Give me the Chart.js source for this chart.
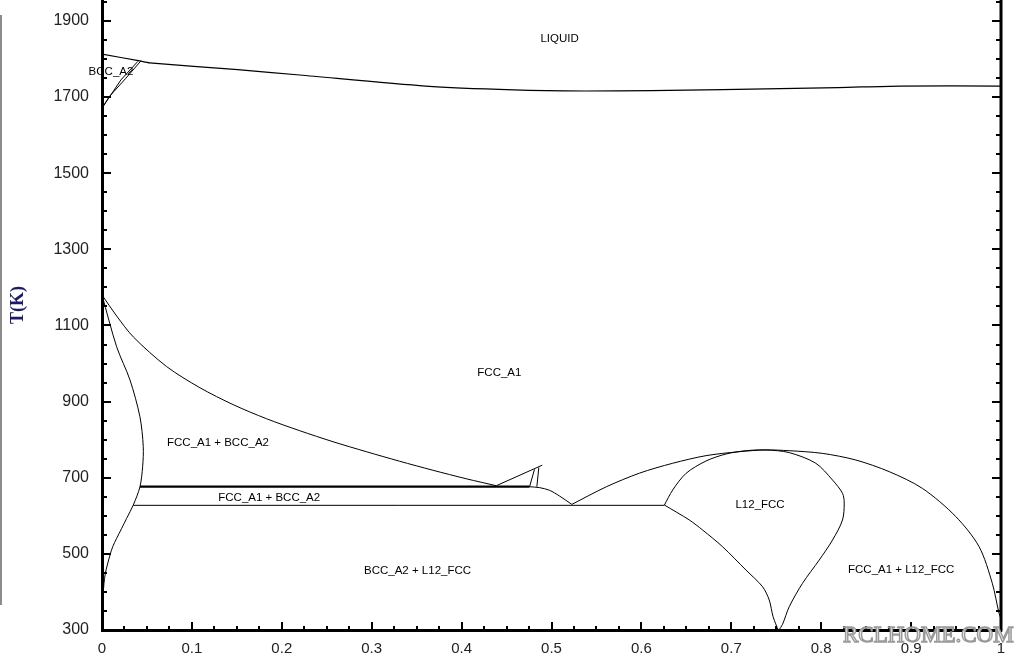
<!DOCTYPE html>
<html>
<head>
<meta charset="utf-8">
<title>Phase diagram</title>
<script src="https://cdn.jsdelivr.net/npm/chart.js@4.4.1/dist/chart.umd.min.js"></script>
<style>
  html, body { margin: 0; padding: 0; background: #fff; }
  #wrap { position: relative; width: 1024px; height: 664px; overflow: hidden; }
  #edge { position: absolute; left: 0; top: 15px; width: 2px; height: 590px; background: #8c8c8c; }
</style>
</head>
<body>
<div id="wrap">
  <canvas id="phaseChart" width="1024" height="664"></canvas>
  <div id="edge"></div>
</div>
<script>
/* phase boundaries, points are [mole fraction, T(K)] */
const xTickValues = [0, 0.1, 0.2, 0.3, 0.4, 0.5, 0.6, 0.7, 0.8, 0.9, 1];
const xTickLabels = ['0', '0.1', '0.2', '0.3', '0.4', '0.5', '0.6', '0.7', '0.8', '0.9', '1'];
const yTickValues = [300, 500, 700, 900, 1100, 1300, 1500, 1700, 1900];
const yTickLabels = ['300', '500', '700', '900', '1100', '1300', '1500', '1700', '1900'];

const liquidus = [[0, 1813], [0.042, 1795], [0.053, 1790], [0.151, 1772], [0.22, 1758], [0.36, 1729],
  [0.458, 1719], [0.537, 1716], [0.611, 1717], [0.69, 1719.5], [0.819, 1725], [0.887, 1729], [1.0, 1729]];
const bccEdgeA = [[0, 1671], [0.021, 1745], [0.04, 1794]];
const bccEdgeB = [[0, 1671], [0.008, 1701], [0.026, 1748], [0.0433, 1795]];

const fccSolvus = [[0, 1180], [0.0163, 1125], [0.0348, 1070], [0.0719, 992], [0.1089, 936.5], [0.1459, 892],
  [0.183, 855], [0.22, 823.5], [0.257, 794.6], [0.294, 768.4], [0.331, 743.4], [0.368, 719.7], [0.405, 697.4],
  [0.4386, 679]];
const bccSolvus = [[0, 1180], [0.0163, 1044], [0.0311, 957], [0.0422, 860], [0.0459, 782], [0.0452, 729],
  [0.0422, 676], [0.0348, 628.3], [0.0274, 593.3], [0.0219, 567], [0.0163, 540.8], [0.0119, 518.7],
  [0.0089, 497], [0.0059, 470.6], [0.0037, 448.8], [0.0022, 422.6], [0.0014, 396.3], [0.0008, 361], [0, 340]];

const upperTie = [[0.0422, 676.4], [0.4756, 676.4]];
const lowerTie = [[0.0348, 627.5], [0.6256, 627.5]];
const smallTie = [[0.4386, 679], [0.4897, 733]];
const sliverA = [[0.4756, 676.4], [0.4811, 722]];
const sliverB = [[0.4837, 676.4], [0.4859, 727]];
const vLeft = [[0.4756, 676.4], [0.4867, 674], [0.4978, 667], [0.5089, 652], [0.5226, 630]];

const outerDome = [[0.5226, 630], [0.5608, 676], [0.5978, 712], [0.6348, 738], [0.6719, 758], [0.7089, 768.4],
  [0.7386, 773], [0.7644, 771], [0.8014, 764], [0.8386, 746.5], [0.8756, 716], [0.9126, 672], [0.9497, 598],
  [0.9756, 519], [0.9903, 423], [0.9978, 344], [1.0, 330]];
const l12Right = [[0.6256, 628.3], [0.6348, 667.7], [0.6497, 711.6], [0.6719, 744], [0.6941, 762.3], [0.7163, 771],
  [0.7386, 773], [0.7644, 766], [0.794, 738], [0.8126, 694], [0.8237, 659], [0.8256, 633.5], [0.8237, 589],
  [0.8126, 536.3], [0.7978, 483.8], [0.7792, 422.6], [0.7644, 361], [0.757, 315], [0.7525, 298]];
const l12Left = [[0.6256, 628.3], [0.6533, 589], [0.6681, 562.6], [0.6903, 518.7], [0.7163, 457.5], [0.7348, 413.6],
  [0.7422, 378.7], [0.7465, 334.8], [0.7525, 298]];

const regionNames = ['LIQUID', 'BCC_A2', 'FCC_A1', 'FCC_A1 + BCC_A2', 'FCC_A1 + BCC_A2', 'L12_FCC',
  'BCC_A2 + L12_FCC', 'FCC_A1 + L12_FCC'];
const regionX = [0.509, 0.01, 0.442, 0.129, 0.186, 0.732, 0.351, 0.889];
const regionT = [1853, 1766, 975, 791, 646, 628, 455, 458];

// curve -> width, smoothing
const curves = [
  [liquidus, 1.2, 0.25], [bccEdgeA, 1, 0], [bccEdgeB, 1, 0],
  [fccSolvus, 1, 0.3], [bccSolvus, 1, 0.3],
  [upperTie, 2.2, 0], [lowerTie, 1, 0], [smallTie, 1, 0], [sliverA, 1, 0], [sliverB, 1, 0], [vLeft, 1, 0.3],
  [outerDome, 1, 0.3], [l12Right, 1, 0.3], [l12Left, 1, 0.3]
];

const decor = {
  id: 'decor',
  afterDraw(chart) {
    const { ctx, chartArea: a, scales: { x, y } } = chart;
    const seg = (x1, y1, x2, y2) => { ctx.beginPath(); ctx.moveTo(x1, y1); ctx.lineTo(x2, y2); ctx.stroke(); };
    ctx.save();
    ctx.strokeStyle = '#000';

    // inward ticks: x every 0.025, y every 50 K
    ctx.lineWidth = 2;
    for (let i = 0; i <= 40; i++) {
      const px = Math.round(x.getPixelForValue(i / 40));
      seg(px, a.bottom, px, a.bottom - (i % 4 === 0 ? 8 : 4));
    }
    for (let t = 300; t <= 1950; t += 50) {
      const py = Math.round(y.getPixelForValue(t));
      const len = yTickValues.includes(t) ? 9 : 5;
      seg(a.left, py, a.left + len, py);
      seg(a.right, py, a.right - len, py);
    }
    ctx.lineWidth = 3;
    seg(a.right, a.top, a.right, a.bottom + 1.5);

    // region names
    ctx.fillStyle = '#000';
    ctx.font = '11.5px "Liberation Sans", Arial, sans-serif';
    ctx.textAlign = 'center';
    ctx.textBaseline = 'middle';
    regionNames.forEach((n, i) => {
      ctx.fillText(n, x.getPixelForValue(regionX[i]), y.getPixelForValue(regionT[i]));
    });

    // axis title
    ctx.save();
    ctx.translate(18, 305);
    ctx.rotate(-Math.PI / 2);
    ctx.font = 'bold 18px "Liberation Serif", "Times New Roman", serif';
    ctx.fillStyle = '#1b1b66';
    ctx.fillText('T(K)', 0, 0);
    ctx.restore();

    // watermark
    ctx.font = '23px "Liberation Serif", "Times New Roman", serif';
    ctx.textAlign = 'left';
    ctx.textBaseline = 'alphabetic';
    ctx.lineWidth = 1.4;
    ctx.fillStyle = '#ececec';
    ctx.strokeStyle = '#999';
    ctx.fillText('RCLHOME.COM', 843, 642);
    ctx.strokeText('RCLHOME.COM', 843, 642);
    ctx.restore();
  }
};

const chart = new Chart(document.getElementById('phaseChart'), {
  type: 'scatter',
  data: {
    datasets: curves.map(([pts, w, tens]) => ({
      data: pts.map(p => ({ x: p[0], y: p[1] })),
      showLine: true,
      borderColor: '#000',
      borderWidth: w,
      tension: tens,
      pointRadius: 0,
      fill: false
    }))
  },
  options: {
    responsive: false,
    animation: false,
    events: [],
    layout: { padding: { left: 0, right: 23, top: 0, bottom: 0 } },
    plugins: { legend: { display: false }, tooltip: { enabled: false } },
    scales: {
      x: {
        type: 'linear', min: 0, max: 1,
        afterBuildTicks: s => { s.ticks = xTickValues.map(v => ({ value: v })); },
        afterFit: s => { s.height = 34; s.paddingLeft = 0; s.paddingRight = 0; },
        grid: { display: false, drawTicks: false },
        border: { display: true, width: 3, color: '#000' },
        ticks: {
          autoSkip: false, maxRotation: 0, padding: 10, color: '#222',
          font: { family: '"Liberation Sans", Arial, sans-serif', size: 15 },
          callback: (v, i) => xTickLabels[i]
        }
      },
      y: {
        type: 'linear', min: 300, max: 1955,
        afterBuildTicks: s => { s.ticks = yTickValues.map(v => ({ value: v })); },
        afterFit: s => { s.width = 102; s.paddingTop = 0; s.paddingBottom = 0; },
        grid: { display: false, drawTicks: false },
        border: { display: true, width: 3, color: '#000' },
        ticks: {
          autoSkip: false, padding: 13, color: '#222',
          font: { family: '"Liberation Sans", Arial, sans-serif', size: 16 },
          callback: (v, i) => yTickLabels[i]
        }
      }
    }
  },
  plugins: [decor]
});
</script>
</body>
</html>
